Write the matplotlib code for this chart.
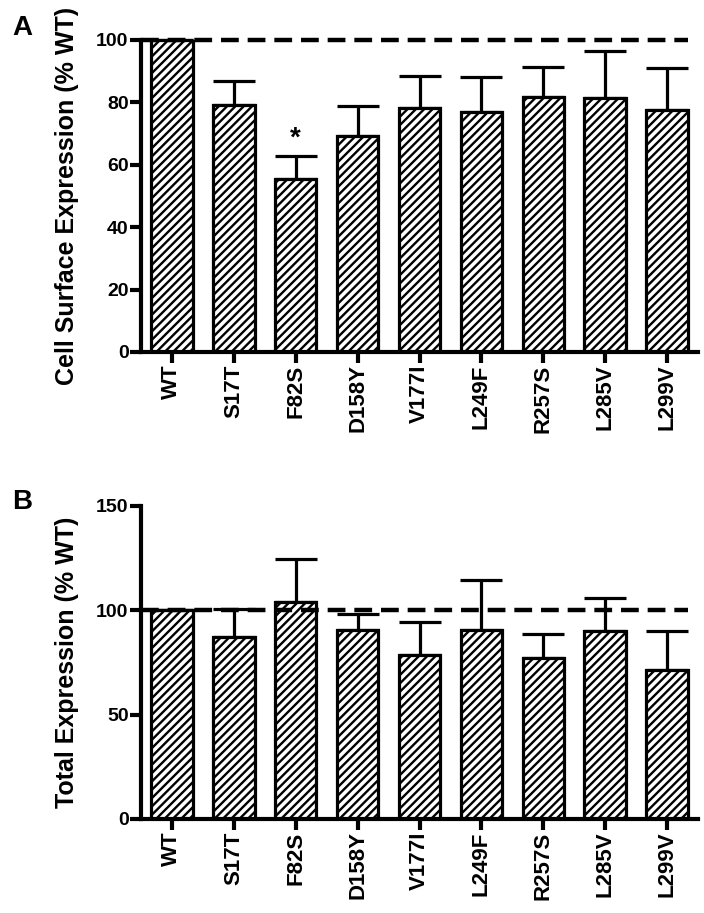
import matplotlib
matplotlib.use("Agg")
import matplotlib.pyplot as plt
import numpy as np

plt.rcParams['font.family'] = ['Liberation Sans', 'DejaVu Sans']
plt.rcParams['font.weight'] = 'bold'
plt.rcParams['hatch.linewidth'] = 1.7

labels = ["WT", "S17T", "F82S", "D158Y", "V177I", "L249F", "R257S", "L285V", "L299V"]

# panel A: cell surface expression (% WT)
surface_mean = [100, 79.2, 55.6, 69.1, 78.3, 76.8, 81.6, 81.3, 77.6]
surface_err = [0, 7.7, 7.2, 9.8, 10.2, 11.4, 9.8, 15.2, 13.3]

# panel B: total expression (% WT)
total_mean = [100, 87.0, 104.0, 90.7, 78.8, 90.7, 77.2, 90.2, 71.3]
total_err = [0, 13.8, 20.5, 7.5, 15.6, 23.6, 11.5, 15.7, 18.9]

fig = plt.figure(figsize=(7.04, 9.13), dpi=100)
axA = fig.add_axes([0.2003, 0.6145, 0.7912, 0.3417])
axB = fig.add_axes([0.2003, 0.103, 0.7912, 0.3428])

x = np.arange(len(labels))
w = 0.67


def panel(ax, mean, err, ymax, yticks, ylabel):
    ax.bar(x, mean, width=w, color="white", edgecolor="black", linewidth=2.3,
           hatch="////", zorder=2)
    lower = np.zeros(len(err))
    ax.errorbar(x, mean, yerr=[lower, err], fmt="none", ecolor="black",
                elinewidth=2.3, capsize=15, capthick=2.3, zorder=1, clip_on=False)
    ax.hlines(100, -0.5, x[-1] + w / 2, colors="black", linestyles=(0, (4, 2)),
              linewidth=3.2, zorder=3, clip_on=False)
    ax.set_xlim(-0.5, len(labels) - 0.5)
    ax.set_ylim(0, ymax)
    ax.set_yticks(yticks)
    ax.set_xticks(x)
    ax.set_xticklabels(labels, rotation=90, fontsize=16)
    for s in ["top", "right"]:
        ax.spines[s].set_visible(False)
    for s in ["left", "bottom"]:
        ax.spines[s].set_linewidth(3)
    ax.tick_params(width=3, length=8, pad=1)
    ax.tick_params(axis="y", labelsize=14)
    ax.set_ylabel(ylabel, fontsize=18, fontweight="bold", labelpad=12)


panel(axA, surface_mean, surface_err, 100, [0, 20, 40, 60, 80, 100],
      "Cell Surface Expression (% WT)")
panel(axB, total_mean, total_err, 150, [0, 50, 100, 150],
      "Total Expression (% WT)")

axA.text(x[2], surface_mean[2] + surface_err[2] + 1.5, "*", ha="center",
         va="bottom", fontsize=20, fontweight="bold")

fig.text(22 / 704, 1 - 28 / 913, "A", fontsize=20, fontweight="bold",
         ha="center", va="center")
fig.text(22 / 704, 1 - 502 / 913, "B", fontsize=20, fontweight="bold",
         ha="center", va="center")

fig.savefig("out.png", dpi=100)
